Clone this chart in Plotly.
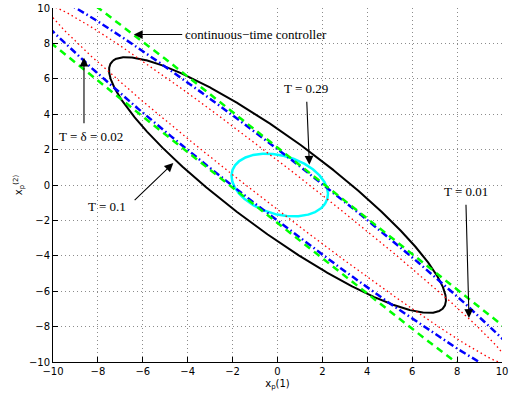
import numpy as np
import plotly.graph_objects as go

# ---------------- data ----------------
curve_names = ["T = 0.1", "T = 0.29", "T = 0.01", "T = δ = 0.02", "continuous−time controller"]
center_x = [0.0, 0.1, 0.0, 0.0, 0.0]
center_y = [0.0, 0.0, 0.0, 0.0, 0.0]
semi_major = [10.15, 2.28, 14.4, 16.3, 60.0]
semi_minor = [2.35, 1.6, 1.0, 1.45, 1.52]
axis_angle_deg = [136.2, -28.0, 135.4, 135.4, 135.0]
n_points = [1500, 800, 3000, 3000, 12000]

line_colors = ["#000000", "#00FFFF", "#FF0000", "#0000FF", "#00FF00"]
line_widths = [2.0, 2.5, 1.3, 2.5, 2.5]
line_dashes = ["solid", "solid", "1.5px,3px", "7px,3px,1.5px,3px", "7px,5px"]

# annotations: arrow tip (x, y), label anchor position, and whether the arrow
# is drawn from the label itself or as a separate shaft with its own tail
ann_text = ["continuous−time controller", "T = δ = 0.02", "T = 0.1", "T = 0.29", "T = 0.01"]
ann_tip_x = [-6.4, -8.62, -4.64, 1.42, 8.53]
ann_tip_y = [8.5, 7.19, 1.24, 1.15, -7.51]
ann_label_x = [-4.2, -8.32, -7.6, 1.28, 8.38]
ann_label_y = [8.5, 2.72, -1.23, 5.44, -0.38]
ann_label_anchor = ["left", "center", "center", "center", "center"]
ann_attached = [True, False, False, True, True]
ann_tail_x = [None, -8.62, -6.43, None, None]
ann_tail_y = [None, 3.4, -0.93, None, None]
ann_start_gap = [1, 0, 0, 4, 4]

tick_vals = [-10, -8, -6, -4, -2, 0, 2, 4, 6, 8, 10]


def ellipse(cx, cy, a, b, ang_deg, n):
    th = np.deg2rad(ang_deg)
    phi = np.linspace(0, 2 * np.pi, n)
    x = cx + a * np.cos(phi) * np.cos(th) - b * np.sin(phi) * np.sin(th)
    y = cy + a * np.cos(phi) * np.sin(th) + b * np.sin(phi) * np.cos(th)
    return x, y


fig = go.Figure()
for i in range(len(curve_names)):
    x, y = ellipse(center_x[i], center_y[i], semi_major[i], semi_minor[i],
                   axis_angle_deg[i], n_points[i])
    fig.add_trace(go.Scatter(
        x=x, y=y, mode="lines", name=curve_names[i],
        line=dict(color=line_colors[i], width=line_widths[i], dash=line_dashes[i]),
        hoverinfo="skip", showlegend=False))

label_font = dict(family="Liberation Serif", size=13, color="black")
arrow_style = dict(showarrow=True, arrowhead=2, arrowsize=1.6, arrowwidth=1.1,
                   arrowcolor="black", standoff=0)

annotations = []
for i in range(len(ann_text)):
    if ann_attached[i]:
        annotations.append(dict(
            x=ann_tip_x[i], y=ann_tip_y[i], ax=ann_label_x[i], ay=ann_label_y[i],
            xref="x", yref="y", axref="x", ayref="y", text=ann_text[i],
            xanchor=ann_label_anchor[i], yanchor="middle", font=label_font,
            startstandoff=ann_start_gap[i], **arrow_style))
    else:
        annotations.append(dict(
            x=ann_tip_x[i], y=ann_tip_y[i], ax=ann_tail_x[i], ay=ann_tail_y[i],
            xref="x", yref="y", axref="x", ayref="y", text="",
            startstandoff=0, **arrow_style))
        annotations.append(dict(
            x=ann_label_x[i], y=ann_label_y[i], xref="x", yref="y",
            text=ann_text[i], showarrow=False, xanchor=ann_label_anchor[i],
            yanchor="middle", font=label_font))

axis_common = dict(
    range=[-10, 10], tickvals=tick_vals, ticks="inside", ticklen=5,
    tickcolor="black", showline=True, linecolor="black", linewidth=1,
    mirror=False, showgrid=True, gridcolor="#8c8c8c", griddash="1px,3px",
    gridwidth=1, zeroline=False, automargin=False,
    tickfont=dict(family="DejaVu Sans", size=10, color="black"))

fig.update_layout(
    width=511, height=395,
    margin=dict(l=53, r=9, t=8, b=33),
    paper_bgcolor="white", plot_bgcolor="white",
    annotations=annotations,
    xaxis=dict(**axis_common,
               title=dict(text="x<sub>p</sub>(1)", standoff=3,
                          font=dict(family="DejaVu Sans", size=10, color="black"))),
    yaxis=dict(**axis_common,
               title=dict(text="x<sub>p</sub><sup>(2)</sup>", standoff=4,
                          font=dict(family="DejaVu Sans", size=10, color="black"))),
    hovermode=False,
)

fig.write_html("out.html", config={"displayModeBar": False},
               post_script="document.body.style.margin='0px';")
